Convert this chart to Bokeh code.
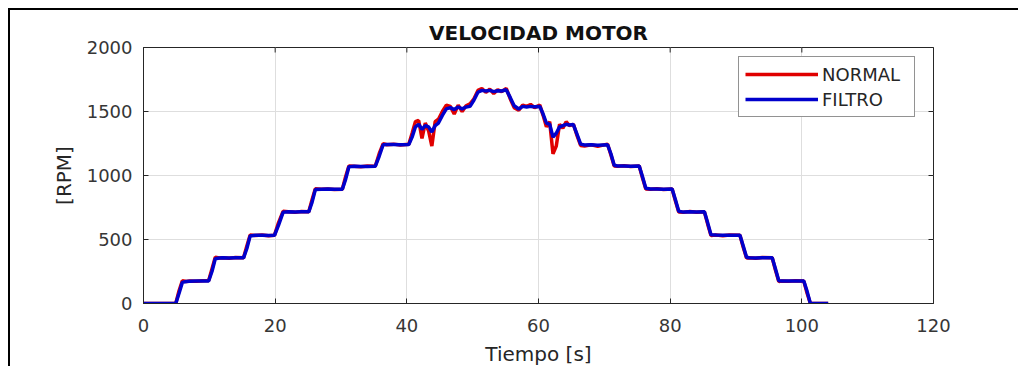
from math import pi
from bokeh.plotting import figure
from bokeh.models import Range1d, FixedTicker
from bokeh.embed import file_html
from bokeh.resources import INLINE

# time [s]
tiempo = [0, 1, 2, 3, 4, 4.9,
          5.4, 5.9, 6.5, 7, 8, 9,
          9.9, 10.4, 10.9, 11.5, 12, 13, 14,
          15.2, 15.7, 16.2, 17, 18, 19,
          19.9, 20.5, 21.2, 22, 23, 24,
          25.1, 25.6, 26.1, 27, 28, 29,
          30.2, 30.7, 31.2, 32, 33, 34,
          35.2, 35.8, 36.4, 37, 38, 39,
          40.3, 40.8, 41.3, 41.8, 42.3, 42.8, 43.3, 43.8, 44.3,
          44.8, 45.4, 46, 46.6, 47.2, 47.8, 48.4, 49, 49.6,
          50.2, 50.8, 51.4, 52, 52.6, 53.2, 53.8, 54.4, 55.1,
          55.7, 56.3, 57, 57.6, 58.2, 58.8, 59.4, 60.2,
          60.7, 61.2, 61.7, 62.2, 62.7, 63.2, 63.7, 64.2, 64.7, 65.3,
          65.8, 66.4, 67, 68, 69, 70.5,
          71, 71.5, 72, 73, 74, 75.3,
          75.8, 76.3, 77, 78, 79, 80.3,
          80.8, 81.3, 82, 83, 84, 85.2,
          85.7, 86.2, 87, 88, 89, 90.6,
          91.1, 91.6, 92, 93, 94, 95.5,
          96, 96.5, 97, 98, 99, 100.3,
          100.8, 101.3, 102, 103, 104]

normal = [0, 0, 0, 0, 0, 0,
          100, 178, 172, 176, 173, 178,
          180, 270, 362, 355, 358, 354, 360,
          358, 450, 536, 532, 535, 530,
          534, 630, 720, 716, 712, 718,
          716, 810, 896, 892, 895, 890,
          893, 990, 1075, 1072, 1068, 1074,
          1072, 1170, 1248, 1240, 1245, 1238,
          1245, 1330, 1420, 1430, 1290, 1410, 1350, 1230, 1420,
          1440, 1500, 1550, 1540, 1480, 1550, 1500, 1545, 1560,
          1600, 1665, 1680, 1650, 1675, 1640, 1670, 1655, 1680,
          1600, 1530, 1510, 1550, 1540, 1555, 1530, 1550,
          1470, 1380, 1420, 1170, 1230, 1400, 1370, 1420, 1390, 1400,
          1320, 1235, 1230, 1240, 1228, 1245,
          1160, 1075, 1072, 1076, 1070, 1074,
          980, 895, 892, 896, 890, 894,
          800, 715, 712, 718, 713, 716,
          620, 532, 535, 530, 536, 533,
          440, 355, 358, 354, 360, 357,
          260, 172, 176, 173, 178, 175,
          80, 0, 0, 0, 0]

filtro = [0, 0, 0, 0, 0, 0,
          80, 165, 172, 174, 175, 176,
          176, 250, 350, 356, 357, 356, 358,
          357, 430, 528, 533, 534, 532,
          533, 610, 712, 716, 714, 716,
          716, 790, 890, 893, 894, 892,
          892, 970, 1068, 1072, 1070, 1071,
          1072, 1150, 1240, 1242, 1243, 1240,
          1242, 1300, 1380, 1400, 1360, 1390, 1380, 1340, 1390,
          1410, 1470, 1520, 1530, 1515, 1535, 1520, 1535, 1540,
          1590, 1650, 1665, 1660, 1665, 1655, 1662, 1660, 1670,
          1610, 1545, 1520, 1540, 1535, 1540, 1538, 1540,
          1480, 1410, 1400, 1300, 1330, 1380, 1390, 1400, 1395, 1398,
          1330, 1245, 1238, 1240, 1236, 1240,
          1170, 1080, 1074, 1075, 1073, 1074,
          990, 900, 894, 895, 893, 894,
          810, 720, 714, 716, 715, 716,
          630, 537, 535, 533, 534, 534,
          450, 362, 358, 356, 358, 357,
          270, 178, 176, 175, 176, 176,
          95, 0, 0, 0, 0]

x_ticks = [0, 20, 40, 60, 80, 100, 120]
y_ticks = [0, 500, 1000, 1500, 2000]
x_max = 120
y_max = 2000

FONT = "DejaVu Sans"
DARK = "#262626"

p = figure(width=1010, height=358, output_backend="svg", toolbar_location=None,
           x_range=Range1d(0, x_max), y_range=Range1d(0, y_max),
           min_border_left=133, min_border_right=87, min_border_top=37, min_border_bottom=64)
p.margin = (8, 0, 0, 8)
p.styles = {"border-left": "2px solid black", "border-top": "2px solid black"}

p.title.text = "VELOCIDAD MOTOR"
p.title.align = "center"
p.title.text_font = FONT
p.title.text_font_size = "20px"
p.title.text_font_style = "bold"
p.title.text_color = "#111111"
p.title.standoff = 6

p.outline_line_color = DARK
p.outline_line_width = 1
p.background_fill_color = "white"
p.border_fill_color = "white"

for ax in [p.xaxis[0], p.yaxis[0]]:
    ax.major_tick_in = 5
    ax.major_tick_out = 0
    ax.minor_tick_line_color = None
    ax.axis_line_color = DARK
    ax.major_tick_line_color = DARK
    ax.major_label_text_font = FONT
    ax.major_label_text_font_size = "18px"
    ax.major_label_text_color = "#363636"
    ax.axis_label_text_font = FONT
    ax.axis_label_text_font_size = "20px"
    ax.axis_label_text_font_style = "normal"
    ax.axis_label_text_color = "#262626"

p.xaxis[0].ticker = FixedTicker(ticks=x_ticks)
p.yaxis[0].ticker = FixedTicker(ticks=y_ticks)
p.xaxis[0].axis_label = "Tiempo [s]"
p.yaxis[0].axis_label = "[RPM]"
p.xaxis[0].major_label_standoff = 15
p.yaxis[0].major_label_standoff = 11
p.xaxis[0].axis_label_standoff = 7
p.yaxis[0].axis_label_standoff = 8

p.xgrid.ticker = FixedTicker(ticks=x_ticks)
p.ygrid.ticker = FixedTicker(ticks=y_ticks)
p.grid.grid_line_color = "#dedede"
p.grid.grid_line_width = 1

# inner tick marks on the top and right edges of the box
p.scatter(x=x_ticks, y=[y_max] * len(x_ticks), marker="dash", size=10, angle=pi / 2,
          line_color=DARK, line_width=1)
p.scatter(x=[x_max] * len(y_ticks), y=y_ticks, marker="dash", size=10,
          line_color=DARK, line_width=1)

p.line(tiempo, normal, line_color="#e00000", line_width=3.5, legend_label="NORMAL")
p.line(tiempo, filtro, line_color="#0000cc", line_width=3.5, legend_label="FILTRO")

lg = p.legend[0]
lg.location = (595, 186)
lg.label_text_font = FONT
lg.label_text_font_size = "18px"
lg.label_text_color = "#262626"
lg.glyph_width = 73
lg.glyph_height = 22
lg.label_height = 22
lg.label_width = 86
lg.label_standoff = 4
lg.spacing = 3
lg.padding = 6
lg.margin = 0
lg.border_line_color = DARK
lg.border_line_width = 1
lg.background_fill_color = "white"
lg.background_fill_alpha = 1

open("out.html", "w").write(file_html(p, INLINE))
